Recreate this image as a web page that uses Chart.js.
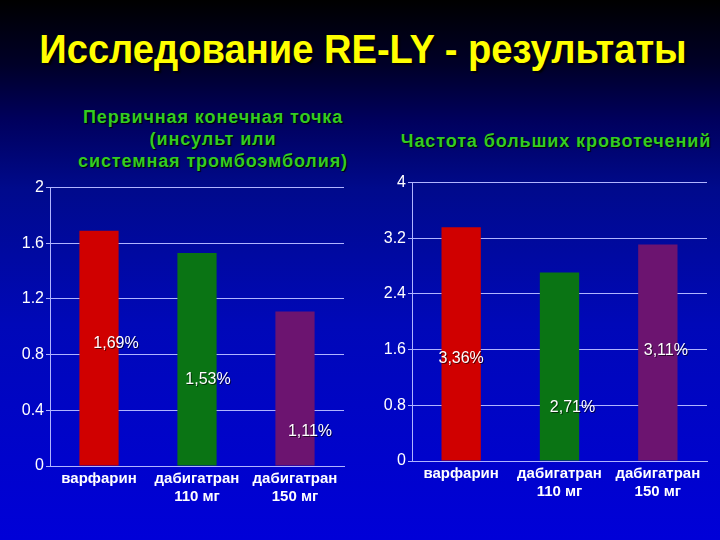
<!DOCTYPE html>
<html>
<head>
<meta charset="utf-8">
<script src="https://cdn.jsdelivr.net/npm/chart.js@4.4.1/dist/chart.umd.min.js"></script>
<style>
  html, body { margin: 0; padding: 0; }
  body {
    width: 720px; height: 540px; position: relative; overflow: hidden;
    background: linear-gradient(to bottom, #000000 0%, #000028 12%, #00005c 22%, #000a8c 35%, #0008b8 60%, #0000d8 100%);
    font-family: "Liberation Sans", Arial, sans-serif;
  }
  #title {
    position: absolute; left: 3px; top: 25px; width: 720px; text-align: center;
    color: #ffff00; font-weight: bold; font-size: 41px; line-height: 48px;
    transform: scaleX(0.93); transform-origin: 360px 0;
    text-shadow: 2px 2px 2px #000;
  }
  .sub {
    position: absolute; color: #33cc22; font-weight: bold; font-size: 18px;
    letter-spacing: 0.9px;
    line-height: 22px; text-align: center; text-shadow: 1px 1px 1px #000;
  }
  canvas { position: absolute; }
</style>
</head>
<body>
<div id="title">Исследование RE-LY - результаты</div>
<div class="sub" style="left:53px; top:106px; width:320px;">Первичная конечная точка<br>(инсульт или<br>системная тромбоэмболия)</div>
<div class="sub" style="left:376px; top:130px; width:360px; white-space:nowrap;">Частота больших кровотечений</div>
<canvas id="strokeChart" style="left:0; top:176px;" width="352" height="350"></canvas>
<canvas id="bleedChart" style="left:362px; top:171px;" width="358" height="350"></canvas>
<script>
const categories = [['варфарин'], ['дабигатран', '110 мг'], ['дабигатран', '150 мг']];
const strokeRates = [1.69, 1.53, 1.11];
const bleedRates = [3.36, 2.71, 3.11];
const strokeTicks = [0, 0.4, 0.8, 1.2, 1.6, 2];
const bleedTicks = [0, 0.8, 1.6, 2.4, 3.2, 4];
const barColors = ['#d00000', '#0a7414', '#6c1470'];

// where each value label sits: shift right of bar centre and drop below bar top (px)
const strokeLabelShift = [{ dx: 17, dy: 113 }, { dx: 11, dy: 127 }, { dx: 15, dy: 120 }];
const bleedLabelShift = [{ dx: 0, dy: 131 }, { dx: 13, dy: 135 }, { dx: 8, dy: 106 }];

const valueLabels = {
  id: 'valueLabels',
  afterDatasetsDraw(chart, args, opts) {
    const ctx = chart.ctx;
    const meta = chart.getDatasetMeta(0);
    const values = chart.data.datasets[0].data;
    ctx.save();
    ctx.font = '16px "Liberation Sans", Arial, sans-serif';
    ctx.fillStyle = '#ffffff';
    ctx.textAlign = 'center';
    ctx.textBaseline = 'middle';
    ctx.shadowColor = 'rgba(0,0,0,0.6)';
    ctx.shadowOffsetX = 1;
    ctx.shadowOffsetY = 1;
    meta.data.forEach((bar, i) => {
      const s = opts.shift[i];
      const txt = values[i].toFixed(2).replace('.', ',') + '%';
      ctx.fillText(txt, bar.x + s.dx, bar.y + s.dy);
    });
    ctx.restore();
  }
};

function makeChart(id, values, ticks, shift, padRight) {
  return new Chart(id, {
    type: 'bar',
    data: {
      labels: categories,
      datasets: [{
        data: values,
        backgroundColor: barColors,
        categoryPercentage: 1,
        barPercentage: 0.4
      }]
    },
    options: {
      responsive: false,
      animation: false,
      layout: { padding: { top: 10, right: padRight, bottom: 10, left: 0 } },
      plugins: {
        legend: { display: false },
        tooltip: { enabled: false },
        valueLabels: { shift: shift }
      },
      scales: {
        x: {
          grid: { display: false, drawTicks: false },
          border: { color: '#b0b4ff', width: 1 },
          ticks: {
            color: '#ffffff',
            padding: 3,
            font: { family: '"Liberation Sans", Arial, sans-serif', size: 15, weight: 'bold', lineHeight: 1.25 },
            maxRotation: 0
          },
          afterFit: s => { s.height = 50; }
        },
        y: {
          min: 0,
          max: ticks[ticks.length - 1],
          afterBuildTicks: s => { s.ticks = ticks.map(v => ({ value: v })); },
          grid: { color: '#b0b4ff', lineWidth: 1, tickLength: 4 },
          border: { color: '#b0b4ff', width: 1 },
          ticks: {
            color: '#ffffff',
            padding: 2,
            font: { family: '"Liberation Sans", Arial, sans-serif', size: 16 },
            callback: v => String(v)
          },
          afterFit: s => { s.width = 50; }
        }
      }
    },
    plugins: [valueLabels]
  });
}

makeChart('strokeChart', strokeRates, strokeTicks, strokeLabelShift, 8);
makeChart('bleedChart', bleedRates, bleedTicks, bleedLabelShift, 13);
</script>
</body>
</html>
